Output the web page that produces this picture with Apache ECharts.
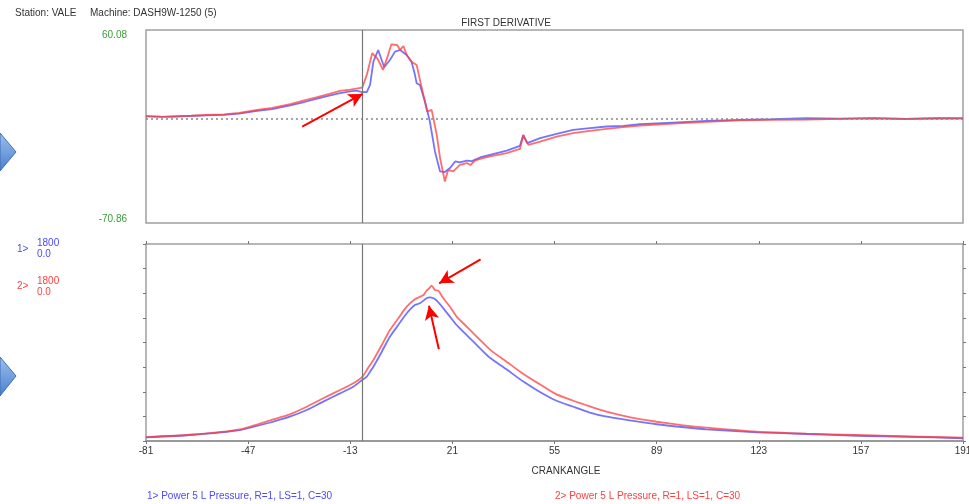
<!DOCTYPE html>
<html>
<head>
    <meta charset="utf-8">
    <script src="https://cdn.jsdelivr.net/npm/echarts@6/dist/echarts.min.js"></script>
    <style>
        html, body { margin: 0; padding: 0; background: #fff; }
        #main { width: 969px; height: 504px; }
    </style>
</head>
<body>
<div id="main"></div>
<script type="text/javascript">
    // crank angle axis
    var angleTicks = [-81, -47, -13, 21, 55, 89, 123, 157, 191];
    var angleMin = -81, angleMax = 191;
    var cursorAngle = -9;

    // first derivative scale
    var derivMin = -70.86, derivMax = 60.08;
    // pressure scale
    var pressMin = 0, pressMax = 1800, pressStep = 225;

    // first derivative [crankangle, value]
    var deriv1 = [[-81,1.5],[-76,1.3],[-72,1.2],[-66,1.8],[-61,2.1],[-55,2.5],[-50,3.4],[-44,5.2],[-39,6.4],[-33,8.9],[-28,11.4],[-24,13.6],[-20,15.6],[-16.4,17.3],[-13,18.5],[-11,19],[-9,18],[-7.5,17.9],[-6.4,22.8],[-5.3,38.6],[-3.7,46.5],[-1.7,34.8],[0.2,39.7],[1.9,45.4],[3.6,46.5],[5.8,43.1],[7.4,38.6],[8.5,30],[9.1,24],[10.2,22.8],[11.9,11.5],[13.5,-2],[15.2,-22.3],[16.9,-35.9],[18.5,-36.3],[20.2,-33.6],[21.9,-29.1],[23.5,-29.8],[25.8,-28.6],[27.5,-28.9],[30.2,-26.4],[33.5,-24.6],[39.1,-21.7],[43.5,-18.5],[44.6,-11],[45.9,-16.7],[50.2,-13.3],[55.7,-10.4],[61.2,-7.7],[66.8,-6.5],[72.4,-5.4],[77.9,-4.9],[83.4,-3.8],[94.5,-2.7],[105.6,-1.6],[116.7,-0.9],[127.8,-0.4],[138.9,0.2],[150,0],[161,0.3],[172,-0.2],[182,0.2],[191,0.3]];
    var deriv2 = [[-81,1.7],[-76,1.2],[-72,1.6],[-66,1.9],[-61,2.4],[-55,2.9],[-50,3.8],[-44,5.8],[-39,7.2],[-33,9.8],[-28,12.5],[-24,14.6],[-20,16.8],[-16.4,18.8],[-13,19.6],[-11,20.3],[-9,21],[-7.5,29.6],[-5.7,44.3],[-4,40.9],[-2.1,33],[-0.6,42],[0.7,50.4],[2.6,49.9],[3.6,46.5],[4.7,49.2],[5.8,43.1],[7.4,38.6],[9.1,36.4],[10.7,21.7],[12.6,4.7],[14.1,5.9],[15.8,-11],[16.9,-26.8],[18.5,-42.7],[19.6,-34.8],[21.3,-35.9],[23.5,-31.4],[25.8,-30.2],[27,-31.5],[28.5,-28.5],[30.2,-27.3],[33.5,-25.6],[39.1,-23.4],[43.5,-20.6],[44.6,-11.5],[46.3,-17.8],[50.2,-15.6],[55.7,-12.2],[61.2,-9.9],[66.8,-8.3],[72.4,-7],[77.9,-5.8],[83.4,-4.7],[94.5,-3.4],[105.6,-2.2],[116.7,-1.3],[127.8,-0.9],[138.9,-0.7],[150,-0.2],[161,0.1],[172,-0.3],[182,0.1],[191,0]];

    // pressure [crankangle, value]
    var press1 = [[-81,34],[-66.4,55],[-49.7,100],[-38.6,177],[-33.1,222],[-27.5,283],[-22,360],[-16.4,435],[-12,496],[-8.9,560],[-7.5,588],[-6.4,633],[-5.3,679],[-2.5,816],[0.2,953],[3,1060],[5.8,1167],[8.5,1243],[10.2,1258],[12.4,1304],[13.5,1313],[14.7,1304],[15.8,1282],[18,1212],[20.2,1136],[22.4,1060],[25.2,984],[28,907],[30.8,831],[33.5,760],[39,655],[44.5,545],[50,450],[55.5,370],[61,315],[66.5,262],[72,224],[80.7,186],[89,153],[97.3,128],[105.6,107],[122.3,79],[138.9,64],[155.6,48],[172.2,39],[191,25]];
    var press2 = [[-81,36],[-66.4,57],[-49.7,107],[-38.6,198],[-33.1,244],[-27.5,313],[-22,390],[-16.4,466],[-12,527],[-8.9,588],[-7.5,649],[-5.3,740],[-2.5,877],[0.2,1014],[3,1121],[5.8,1227],[8.5,1295],[10.2,1318],[11.4,1334],[12.4,1373],[13.3,1395],[14.1,1419],[15.2,1380],[16.3,1373],[18,1304],[20.2,1227],[22.4,1136],[25.2,1060],[28,984],[30.8,907],[33.5,835],[39,725],[44.5,615],[50,520],[55.5,428],[61,370],[66.5,318],[72,270],[80.7,213],[89,176],[97.3,146],[105.6,122],[122.3,85],[138.9,67],[155.6,55],[172.2,43],[191,30]];

    // annotation arrows, [tail, tip] in data coords
    var arrowsTop = [[[-29, -5.4], [-8.9, 16.7]]];
    var arrowsBottom = [[[30.4, 1660], [16.6, 1441]], [[16.5, 838], [13.2, 1236]]];

    var legend1 = '1> Power 5 L Pressure, R=1, LS=1, C=30';
    var legend2 = '2> Power 5 L Pressure, R=1, LS=1, C=30';

    var blue = 'rgba(70,70,255,0.75)';
    var red = 'rgba(255,60,60,0.75)';
    var font = "'Liberation Sans', Arial, sans-serif";

    var myChart = echarts.init(document.getElementById('main'));

    function arrowData(list) {
        return list.map(function (a) {
            return [{ coord: a[0] }, { coord: a[1] }];
        });
    }

    function txt(x, y, text, color, size, align) {
        return {
            type: 'text', x: x, y: y,
            style: {
                text: text, fill: color, fontSize: size || 10, fontFamily: font,
                align: align || 'left', verticalAlign: 'middle'
            }
        };
    }

    var chevron = {
        type: 'linear', x: 0, y: 0, x2: 0, y2: 1,
        colorStops: [{ offset: 0, color: '#9cc0ee' }, { offset: 1, color: '#4a7fcc' }]
    };

    var tickStyle = { show: true, length: 3, inside: false, lineStyle: { color: '#777' } };

    option = {
        animation: false,
        backgroundColor: '#fff',
        grid: [
            { left: 146, top: 30, width: 817, height: 193, show: true, borderColor: '#a0a0a0', borderWidth: 1.5,
              containLabel: false, outerBoundsMode: 'none' },
            { left: 146, top: 244, width: 817, height: 197, show: true, borderColor: '#a0a0a0', borderWidth: 1.5,
              containLabel: false, outerBoundsMode: 'none' }
        ],
        xAxis: [
            { type: 'value', gridIndex: 0, min: angleMin, max: angleMax, show: false },
            {
                type: 'value', gridIndex: 1, min: angleMin, max: angleMax, position: 'bottom',
                axisLine: { show: true, onZero: false, lineStyle: { color: '#999', width: 2 } },
                axisTick: { show: true, length: 3, customValues: angleTicks, lineStyle: { color: '#777' } },
                axisLabel: { customValues: angleTicks, margin: 5, color: '#333', fontSize: 10, fontFamily: font },
                splitLine: { show: false }
            },
            {
                type: 'value', gridIndex: 1, min: angleMin, max: angleMax, position: 'top',
                axisLine: { show: false, onZero: false },
                axisTick: { show: true, length: 3, customValues: angleTicks, lineStyle: { color: '#777' } },
                axisLabel: { show: false },
                splitLine: { show: false }
            }
        ],
        yAxis: [
            { type: 'value', gridIndex: 0, min: derivMin, max: derivMax, show: false },
            {
                type: 'value', gridIndex: 1, min: pressMin, max: pressMax, interval: pressStep, position: 'left',
                axisLine: { show: false, onZero: false }, axisTick: tickStyle, axisLabel: { show: false }, splitLine: { show: false }
            },
            {
                type: 'value', gridIndex: 1, min: pressMin, max: pressMax, interval: pressStep, position: 'right',
                axisLine: { show: false, onZero: false }, axisTick: tickStyle, axisLabel: { show: false }, splitLine: { show: false }
            }
        ],
        series: [
            {
                type: 'line', xAxisIndex: 0, yAxisIndex: 0, data: deriv1, showSymbol: false,
                lineStyle: { color: blue, width: 1.8 },
                markLine: {
                    silent: true, symbol: 'none', label: { show: false },
                    data: [
                        { yAxis: 0, lineStyle: { color: '#888', type: [2, 3], width: 1.5 } },
                        { xAxis: cursorAngle, lineStyle: { color: '#777', type: 'solid', width: 1.2 } }
                    ]
                }
            },
            {
                type: 'line', xAxisIndex: 0, yAxisIndex: 0, data: deriv2, showSymbol: false,
                lineStyle: { color: red, width: 1.8 }
            },
            {
                type: 'line', xAxisIndex: 1, yAxisIndex: 1, data: press1, showSymbol: false, smooth: 0.2,
                lineStyle: { color: blue, width: 1.8 },
                markLine: {
                    silent: true, symbol: 'none', label: { show: false },
                    data: [{ xAxis: cursorAngle, lineStyle: { color: '#777', type: 'solid', width: 1.2 } }]
                }
            },
            {
                type: 'line', xAxisIndex: 1, yAxisIndex: 1, data: press2, showSymbol: false, smooth: 0.2,
                lineStyle: { color: red, width: 1.8 }
            },
            {
                type: 'line', xAxisIndex: 0, yAxisIndex: 0, data: [],
                markLine: {
                    silent: true, symbol: ['none', 'arrow'], symbolSize: [11, 14], label: { show: false },
                    lineStyle: { color: '#ff0000', width: 2, type: 'solid' },
                    data: arrowData(arrowsTop)
                }
            },
            {
                type: 'line', xAxisIndex: 1, yAxisIndex: 1, data: [],
                markLine: {
                    silent: true, symbol: ['none', 'arrow'], symbolSize: [11, 14], label: { show: false },
                    lineStyle: { color: '#ff0000', width: 2, type: 'solid' },
                    data: arrowData(arrowsBottom)
                }
            }
        ],
        graphic: [
            { type: 'polygon', shape: { points: [[0, 133], [16, 152], [0, 171]] }, style: { fill: chevron, stroke: '#3d6fb8', lineWidth: 1 } },
            { type: 'polygon', shape: { points: [[0, 357], [16, 376], [0, 396]] }, style: { fill: chevron, stroke: '#3d6fb8', lineWidth: 1 } },
            txt(15, 13, 'Station: VALE', '#333', 10),
            txt(90, 13, 'Machine: DASH9W-1250 (5)', '#333', 10),
            txt(506, 23, 'FIRST DERIVATIVE', '#333', 10, 'center'),
            txt(127, 35, derivMax.toFixed(2), '#3c9a3c', 10, 'right'),
            txt(127, 219, derivMin.toFixed(2), '#3c9a3c', 10, 'right'),
            txt(17, 249, '1>', '#4a4aff', 10),
            txt(37, 243, String(pressMax), '#4a4aff', 10),
            txt(37, 254, pressMin.toFixed(1), '#4a4aff', 10),
            txt(17, 286, '2>', '#ff4040', 10),
            txt(37, 281, String(pressMax), '#ff4040', 10),
            txt(37, 292, pressMin.toFixed(1), '#ff4040', 10),
            txt(566, 471, 'CRANKANGLE', '#333', 10, 'center'),
            txt(147, 496, legend1, '#4a4aff', 10),
            txt(555, 496, legend2, '#ff4040', 10)
        ]
    };

    myChart.setOption(option);
</script>
</body>
</html>
